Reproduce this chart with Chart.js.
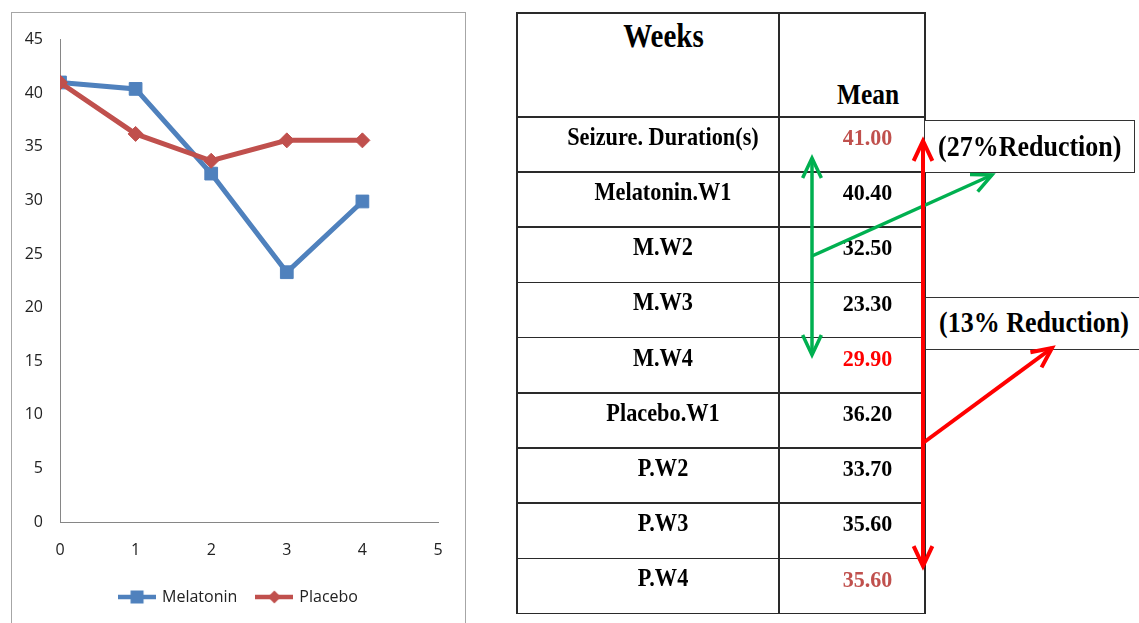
<!DOCTYPE html>
<html>
<head>
<meta charset="utf-8">
<script src="https://cdn.jsdelivr.net/npm/chart.js@4.4.1/dist/chart.umd.min.js"></script>
<style>
  body { margin: 0; width: 1139px; height: 623px; overflow: hidden; background: #fff; position: relative; }
  #chartFrame { position: absolute; left: 11px; top: 12px; width: 453px; height: 640px; border: 1px solid #a6a6a6; }
  #chartWrap { position: absolute; left: 12px; top: 13px; width: 452px; height: 610px; }
  .line { position: absolute; background: #2a2a2a; }
  .box { position: absolute; border: 1.5px solid #333; background: #fff; box-sizing: border-box; }
  .txt { position: absolute; white-space: nowrap; font-family: "Liberation Serif", "Times New Roman", serif; font-weight: bold; color: #000; }
  svg { position: absolute; left: 0; top: 0; }
</style>
</head>
<body>
<div id="chartFrame"></div>
<div id="chartWrap"><canvas id="seizureChart"></canvas></div>
<div id="tableLayer"></div>
<svg id="arrows" width="1139" height="623"></svg>

<script>
/* data */
const weeks = [0, 1, 2, 3, 4];
const melatonin = [41.0, 40.4, 32.5, 23.3, 29.9];
const placebo = [41.0, 36.2, 33.7, 35.6, 35.6];
const xTicks = [0, 1, 2, 3, 4, 5];
const yTicks = [0, 5, 10, 15, 20, 25, 30, 35, 40, 45];
const rowLabels = ["Seizure. Duration(s)", "Melatonin.W1", "M.W2", "M.W3", "M.W4",
                   "Placebo.W1", "P.W2", "P.W3", "P.W4"];
const rowMeans = [melatonin[0], ...melatonin.slice(1), ...placebo.slice(1)];
const meanColors = ["#c0504d", "#000", "#000", "#000", "#ff0000", "#000", "#000", "#000", "#c0504d"];
const notes = ["(27%Reduction)", "(13% Reduction)"];

const BLUE = "#4f81bd", RED = "#c0504d";

/* legend marks: line with marker, like the spreadsheet legend */
function legendMark(color, style) {
    const c = document.createElement("canvas");
    c.width = 38; c.height = 14;
    const g = c.getContext("2d");
    g.strokeStyle = color; g.lineWidth = 4.5;
    g.beginPath(); g.moveTo(0, 7); g.lineTo(38, 7); g.stroke();
    g.fillStyle = color;
    if (style === "rect") {
        g.fillRect(12.5, 0.5, 13, 13);
    } else {
        g.beginPath(); g.moveTo(19, 0.5); g.lineTo(25.5, 7); g.lineTo(19, 13.5); g.lineTo(12.5, 7); g.closePath(); g.fill();
    }
    return c;
}
const marks = [legendMark(BLUE, "rect"), legendMark(RED, "diamond")];

const tickFont = { family: "'Open Sans', sans-serif", size: 16 };

new Chart(document.getElementById("seizureChart"), {
    type: "line",
    data: {
        datasets: [{
            label: "Melatonin",
            data: weeks.map((w, i) => ({ x: w, y: melatonin[i] })),
            borderColor: BLUE,
            backgroundColor: BLUE,
            borderWidth: 5,
            pointStyle: "rect",
            pointRadius: 9,
            pointHoverRadius: 9,
            pointBorderWidth: 1,
            tension: 0,
            order: 1
        }, {
            label: "Placebo",
            data: weeks.map((w, i) => ({ x: w, y: placebo[i] })),
            borderColor: RED,
            backgroundColor: RED,
            borderWidth: 5,
            pointStyle: "rectRot",
            pointRadius: 7.5,
            pointHoverRadius: 7.5,
            pointBorderWidth: 1,
            tension: 0,
            order: 0
        }]
    },
    options: {
        responsive: true,
        maintainAspectRatio: false,
        animation: false,
        layout: { padding: { left: 12, right: 10, top: 24, bottom: 8 } },
        plugins: {
            tooltip: { enabled: false },
            legend: {
                position: "bottom",
                labels: {
                    usePointStyle: true,
                    pointStyleWidth: 34,
                    padding: 20,
                    color: "#222",
                    font: tickFont,
                    generateLabels: chart => chart.data.datasets.map((ds, i) => ({
                        text: ds.label,
                        pointStyle: marks[i],
                        fillStyle: ds.borderColor,
                        strokeStyle: ds.borderColor,
                        lineWidth: 0,
                        hidden: false,
                        datasetIndex: i,
                        fontColor: "#222"
                    }))
                }
            }
        },
        scales: {
            x: {
                type: "linear",
                min: 0,
                max: 5,
                grid: { display: false, drawTicks: false },
                border: { color: "#868686", width: 1 },
                afterBuildTicks: s => { s.ticks = xTicks.map(v => ({ value: v })); },
                afterFit: s => { s.height = 47; },
                ticks: { padding: 19, color: "#222", font: tickFont, maxRotation: 0 }
            },
            y: {
                min: 0,
                max: 45,
                grid: { display: false, drawTicks: false },
                border: { color: "#868686", width: 1 },
                afterBuildTicks: s => { s.ticks = yTicks.map(v => ({ value: v })); },
                afterFit: s => { s.width = 36; },
                ticks: { padding: 17, color: "#222", font: tickFont }
            },
            // empty strip on the right, keeps the plot where the original has it
            spacer: {
                type: "linear",
                position: "right",
                grid: { display: false },
                border: { display: false },
                ticks: { display: false },
                afterFit: s => { s.width = 16; }
            }
        }
    }
});

/* table on the right */
const layer = document.getElementById("tableLayer");
const tLeft = 516, tRight = 924, tSplit = 778, tTop = 12, headBottom = 116, rowH = 55.2;
const tBottom = headBottom + rowLabels.length * rowH;

function addLine(x, y, w, h) {
    const d = document.createElement("div");
    d.className = "line";
    Object.assign(d.style, { left: x + "px", top: y + "px", width: w + "px", height: h + "px" });
    layer.appendChild(d);
}
function addText(str, x, baseline, size, opts = {}) {
    const d = document.createElement("div");
    d.className = "txt";
    d.textContent = str;
    const base = 0.8375 * size;
    const st = { top: (baseline - base) + "px", fontSize: size + "px", lineHeight: size + "px",
                 color: opts.color || "#000" };
    if (opts.center) {
        st.left = (x - 200) + "px"; st.width = "400px"; st.textAlign = "center";
    } else {
        st.left = x + "px";
    }
    if (opts.stretch) {
        st.transform = "scaleY(" + opts.stretch + ")";
        st.transformOrigin = "50% " + base + "px";
    }
    Object.assign(d.style, st);
    layer.appendChild(d);
}
function addBox(x, y, w, h) {
    const d = document.createElement("div");
    d.className = "box";
    Object.assign(d.style, { left: x + "px", top: y + "px", width: w + "px", height: h + "px" });
    layer.appendChild(d);
}

// grid lines
addLine(tLeft, tTop, tRight - tLeft + 1.5, 1.5);
addLine(tLeft, headBottom, tRight - tLeft + 1.5, 1.5);
rowLabels.forEach((_, i) => addLine(tLeft, headBottom + (i + 1) * rowH, tRight - tLeft + 1.5, 1.5));
addLine(tLeft, tTop, 1.5, tBottom - tTop + 1.5);
addLine(tSplit, tTop, 1.5, tBottom - tTop + 1.5);
addLine(tRight, tTop, 1.5, tBottom - tTop + 1.5);

addText("Weeks", 663.5, 47.7, 29, { center: true, stretch: 1.15 });
addText("Mean", 868, 104, 25.4, { center: true, stretch: 1.15 });
rowLabels.forEach((lab, i) => {
    const top = headBottom + i * rowH;
    addText(lab, 663, top + 29.5, 22.3, { center: true, stretch: 1.1 });
    addText(rowMeans[i].toFixed(2), 867.5, top + 29.5, 22, { center: true, color: meanColors[i], stretch: 1.05 });
});

// note boxes
addBox(924, 120, 211, 53);
addText(notes[0], 938, 156.7, 26, { stretch: 1.12 });
addBox(925, 297, 230, 53);
addText(notes[1], 939, 333, 26, { stretch: 1.12 });

/* arrows */
const svg = document.getElementById("arrows");
const NS = "http://www.w3.org/2000/svg";
function seg(x1, y1, x2, y2, color, w) {
    const l = document.createElementNS(NS, "line");
    l.setAttribute("x1", x1); l.setAttribute("y1", y1);
    l.setAttribute("x2", x2); l.setAttribute("y2", y2);
    l.setAttribute("stroke", color); l.setAttribute("stroke-width", w);
    svg.appendChild(l);
}
function head(fx, fy, tx, ty, color, w) {
    const a = Math.atan2(ty - fy, tx - fx), len = 22, spread = 0.44;
    const p1 = [tx - len * Math.cos(a - spread), ty - len * Math.sin(a - spread)];
    const p2 = [tx - len * Math.cos(a + spread), ty - len * Math.sin(a + spread)];
    const p = document.createElementNS(NS, "polyline");
    p.setAttribute("points", p1.join(",") + " " + tx + "," + ty + " " + p2.join(","));
    p.setAttribute("fill", "none"); p.setAttribute("stroke", color);
    p.setAttribute("stroke-width", w); p.setAttribute("stroke-linejoin", "miter");
    svg.appendChild(p);
}
function arrow(x1, y1, x2, y2, color, w, both) {
    seg(x1, y1, x2, y2, color, w);
    head(x1, y1, x2, y2, color, w);
    if (both) head(x2, y2, x1, y1, color, w);
}
const GREEN = "#00b050", BRIGHT = "#ff0000";
arrow(812, 158, 812, 355, GREEN, 3.5, true);
arrow(812, 256, 992, 175, GREEN, 3.5, false);
arrow(923, 141, 923, 566, BRIGHT, 4, true);
arrow(923, 443, 1052, 348, BRIGHT, 4, false);
</script>
</body>
</html>
